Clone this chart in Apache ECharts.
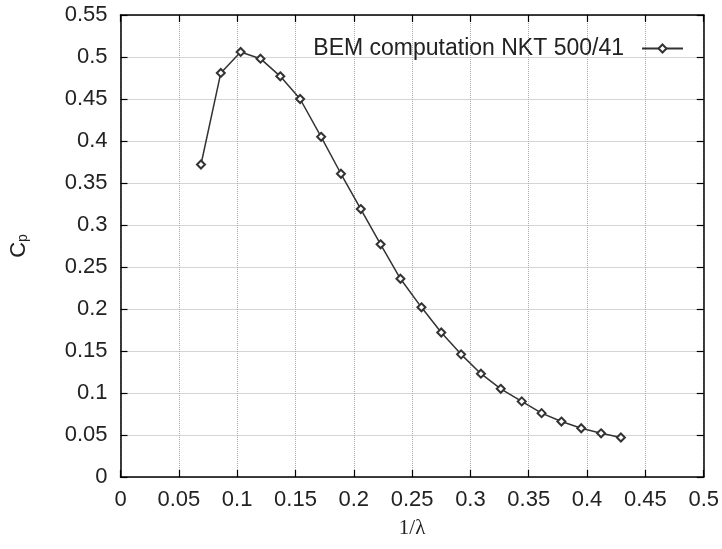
<!DOCTYPE html>
<html><head><meta charset="utf-8">
<script src="https://cdn.jsdelivr.net/npm/echarts@6/dist/echarts.min.js"></script>
<style>html,body{margin:0;padding:0;background:#fff}#c{width:722px;height:549px}</style>
</head><body><div id="c"></div>
<script>
const seriesName = 'BEM computation NKT 500/41';
const invLambda = [0.069, 0.086, 0.103, 0.120, 0.137, 0.154, 0.172, 0.189, 0.206, 0.223, 0.240, 0.258, 0.275, 0.292, 0.309, 0.326, 0.344, 0.361, 0.378, 0.395, 0.412, 0.429];
const cp = [0.372, 0.481, 0.506, 0.498, 0.477, 0.450, 0.405, 0.361, 0.319, 0.277, 0.236, 0.202, 0.172, 0.146, 0.123, 0.105, 0.090, 0.076, 0.066, 0.058, 0.052, 0.047];
const xTicks = { min: 0, max: 0.5, interval: 0.05 };
const yTicks = { min: 0, max: 0.55, interval: 0.05 };

const font = 'Liberation Sans, Arial, sans-serif';
const fmt = v => String(Math.round(v * 100) / 100);
const chart = echarts.init(document.getElementById('c'));
const axisLine = { show: true, onZero: false, lineStyle: { color: '#000', width: 1.5 } };
const tick = { show: true, inside: true, length: 7, lineStyle: { color: '#000', width: 1.2 } };
const grid = { show: true, lineStyle: { color: '#aaa', width: 1, type: 'dotted' } };
chart.setOption({
  animation: false,
  backgroundColor: '#fff',
  grid: { left: 120, right: 18, top: 15, bottom: 72, containLabel: false },
  legend: {
    data: [seriesName], right: 33, top: 32, align: 'right', itemWidth: 41, itemHeight: 10, itemGap: 0,
    textStyle: { fontFamily: font, fontSize: 23, color: '#222', padding: [0, 13, 0, 0] }
  },
  xAxis: [{
    type: 'value', min: xTicks.min, max: xTicks.max, interval: xTicks.interval, position: 'bottom',
    axisLine, axisTick: tick, splitLine: grid,
    axisLabel: { formatter: fmt, fontFamily: font, fontSize: 22, color: '#222', margin: 12 },
    name: '1/λ', nameLocation: 'middle', nameGap: 41,
    nameTextStyle: { fontFamily: 'Liberation Serif, serif', fontSize: 21, color: '#222', verticalAlign: 'top' }
  }, {
    type: 'value', min: xTicks.min, max: xTicks.max, interval: xTicks.interval, position: 'top',
    axisLine, axisTick: tick, splitLine: { show: false }, axisLabel: { show: false }
  }],
  yAxis: [{
    type: 'value', min: yTicks.min, max: yTicks.max, interval: yTicks.interval, position: 'left',
    axisLine, axisTick: tick, splitLine: grid,
    axisLabel: { formatter: fmt, fontFamily: font, fontSize: 22, color: '#222', margin: 13 },
    name: '{c|C}{s|p}', nameLocation: 'middle', nameGap: 90,
    nameTextStyle: { rich: {
      c: { fontFamily: font, fontSize: 22, color: '#222' },
      s: { fontFamily: font, fontSize: 14, color: '#222', verticalAlign: 'bottom', padding: [9, 0, 0, 0] }
    } }
  }, {
    type: 'value', min: yTicks.min, max: yTicks.max, interval: yTicks.interval, position: 'right',
    axisLine, axisTick: tick, splitLine: { show: false }, axisLabel: { show: false }
  }],
  series: [{
    name: seriesName, type: 'line', xAxisIndex: 0, yAxisIndex: 0,
    data: invLambda.map((x, i) => [x, cp[i]]),
    symbol: 'emptyDiamond', symbolSize: 8,
    lineStyle: { color: '#333', width: 1.5 },
    itemStyle: { color: '#333', borderColor: '#333', borderWidth: 1.2 }
  }]
});
</script></body></html>
